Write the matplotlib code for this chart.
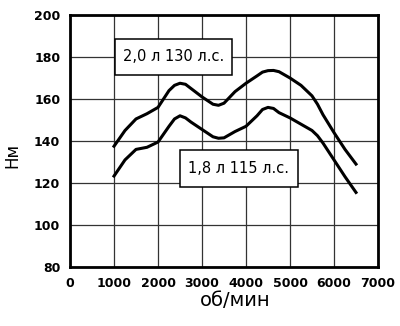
import matplotlib
matplotlib.use("Agg")
import matplotlib.pyplot as plt
from matplotlib.patches import Rectangle

# Крутящий момент двигателей, Нм, по оборотам
rpm = [1000, 1250, 1500, 1750, 2000, 2250, 2375, 2500, 2625, 2750, 3000, 3250, 3375,
       3500, 3750, 4000, 4250, 4375, 4500, 4625, 4750, 5000, 5250, 5500, 5625, 5750,
       6000, 6250, 6500]
torque_20 = [137.5, 145, 150.5, 153, 156, 164, 166.5, 167.5, 167, 165, 161, 157.5, 157,
             158, 163.5, 167.5, 171, 172.8, 173.5, 173.6, 173, 170, 166.5, 161.5, 157.5,
             152.5, 144, 136, 129]
torque_18 = [123.3, 131, 136, 137, 139.5, 147, 150.5, 152, 151, 149, 145.5, 142, 141.3,
             141.5, 144.5, 147, 152, 155, 156, 155.5, 153.5, 151, 148, 145, 142.5, 139,
             131, 123, 115.5]

label_20 = "2,0 л 130 л.с."
label_18 = "1,8 л 115 л.с."

xticks = [0, 1000, 2000, 3000, 4000, 5000, 6000, 7000]
yticks = [80, 100, 120, 140, 160, 180, 200]

fig = plt.figure(figsize=(4.0, 3.26), dpi=100)
ax = fig.add_axes([0.175, 0.181, 0.77, 0.773])

ax.plot(rpm, torque_20, color="black", lw=2.2, solid_joinstyle="round", zorder=3)
ax.plot(rpm, torque_18, color="black", lw=2.2, solid_joinstyle="round", zorder=3)

# подписи кривых в белых рамках (x, y, ширина, высота в единицах осей)
boxes = [((1020, 171.4, 2660, 17.2), label_20),
         ((2500, 118.1, 2680, 17.6), label_18)]
for (x0, y0, w, h), txt in boxes:
    ax.add_patch(Rectangle((x0, y0), w, h, fc="white", ec="black", lw=1.1, zorder=4))
    ax.text(x0 + w / 2, y0 + h / 2, txt, ha="center", va="center",
            fontsize=10.5, zorder=5)

ax.set_xlim(0, 7000)
ax.set_ylim(80, 200)
ax.set_xticks(xticks)
ax.set_yticks(yticks)
ax.tick_params(length=0, pad=7)
for lab in ax.get_xticklabels() + ax.get_yticklabels():
    lab.set_fontweight("bold")
    lab.set_fontsize(9)

ax.grid(True, color="#333333", lw=0.9)
ax.set_axisbelow(True)
for sp in ax.spines.values():
    sp.set_linewidth(2.0)

ax.set_xlabel("об/мин", fontsize=14)
ax.xaxis.set_label_coords(0.536, -0.131)
ax.set_ylabel("Нм", fontsize=12)
ax.yaxis.set_label_coords(-0.188, 0.444)
ax.xaxis.label.set_va("center")
ax.yaxis.label.set_va("center")

fig.savefig("out.png", dpi=100)
